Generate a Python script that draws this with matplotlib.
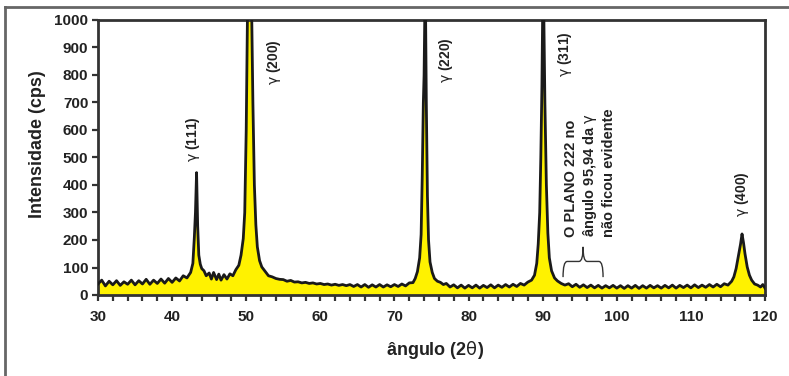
import matplotlib
matplotlib.use("Agg")
import matplotlib.pyplot as plt
from matplotlib.lines import Line2D
from matplotlib.path import Path
from matplotlib.patches import PathPatch
import numpy as np

plt.rcParams['font.family'] = ['Liberation Sans', 'DejaVu Sans']

# difratograma: (angulo 2theta, intensidade cps)
angulo = [
    30.0, 30.5, 31.0, 31.5, 32.0, 32.5, 33.0, 33.5, 34.0, 34.5, 35.0, 35.5, 36.0, 36.5,
    37.0, 37.5, 38.0, 38.5, 39.0, 39.5, 40.0, 40.5, 41.0, 41.5, 42.0, 42.5, 42.8, 43.0,
    43.15, 43.3, 43.45, 43.6, 43.8, 44.0, 44.3, 44.6, 45.0, 45.3, 45.6, 46.0, 46.3, 46.6,
    47.0, 47.4, 47.8, 48.2, 48.6, 49.0, 49.3, 49.6, 49.8, 50.0, 50.2, 50.7, 50.9, 51.1,
    51.3, 51.5, 51.8, 52.1, 52.5, 53.0, 53.5, 54.0, 54.5, 55.0, 55.5, 56.0, 56.5, 57.0,
    57.5, 58.0, 58.5, 59.0, 59.5, 60.0, 60.5, 61.0, 61.5, 62.0, 62.5, 63.0, 63.5, 64.0,
    64.5, 65.0, 65.5, 66.0, 66.5, 67.0, 67.5, 68.0, 68.5, 69.0, 69.5, 70.0, 70.5, 71.0,
    71.5, 72.0, 72.5, 72.8, 73.1, 73.4, 73.6, 73.75, 73.9, 74.0, 74.1, 74.2, 74.3, 74.45,
    74.6, 74.8, 75.1, 75.4, 75.8, 76.2, 76.6, 77.0, 77.5, 78.0, 78.5, 79.0, 79.5, 80.0,
    80.5, 81.0, 81.5, 82.0, 82.5, 83.0, 83.5, 84.0, 84.5, 85.0, 85.5, 86.0, 86.5, 87.0,
    87.5, 88.0, 88.5, 88.9, 89.2, 89.4, 89.6, 89.75, 89.9, 90.0, 90.15, 90.3, 90.5, 90.7,
    90.9, 91.2, 91.6, 92.0, 92.5, 93.0, 93.5, 94.0, 94.5, 95.0, 95.5, 96.0, 96.5, 97.0,
    97.5, 98.0, 98.5, 99.0, 99.5, 100.0, 100.5, 101.0, 101.5, 102.0, 102.5, 103.0, 103.5,
    104.0, 104.5, 105.0, 105.5, 106.0, 106.5, 107.0, 107.5, 108.0, 108.5, 109.0, 109.5,
    110.0, 110.5, 111.0, 111.5, 112.0, 112.5, 113.0, 113.5, 114.0, 114.5, 115.0, 115.5,
    115.8, 116.1, 116.4, 116.7, 116.9, 117.1, 117.3, 117.6, 117.9, 118.2, 118.6, 119.0,
    119.4, 119.7, 120.0,
]
intensidade = [
    40, 54, 33, 50, 37, 52, 35, 48, 39, 54, 37, 52, 40, 57,
    39, 54, 42, 58, 43, 60, 46, 62, 51, 70, 62, 82, 115, 210,
    300, 445, 250, 145, 112, 96, 88, 70, 80, 58, 82, 56, 76, 54,
    74, 58, 77, 70, 92, 108, 145, 205, 300, 600, 1100, 1100, 700, 400,
    255, 175, 125, 102, 88, 70, 66, 60, 57, 56, 50, 53, 47, 48,
    44, 46, 42, 44, 40, 42, 38, 40, 36, 39, 35, 38, 34, 38,
    31, 38, 29, 38, 28, 37, 29, 38, 29, 37, 30, 38, 31, 40,
    33, 44, 45, 60, 85, 135, 220, 430, 700, 800, 1030, 1030, 700, 360,
    200, 120, 82, 60, 50, 46, 38, 42, 29, 37, 26, 36, 25, 35,
    26, 36, 25, 35, 27, 37, 26, 36, 28, 38, 29, 39, 31, 42,
    36, 47, 54, 72, 115, 185, 300, 500, 760, 1030, 1030, 700, 400, 225,
    135, 88, 62, 51, 42, 36, 41, 30, 39, 28, 37, 27, 36, 26,
    35, 25, 34, 26, 35, 25, 34, 24, 34, 25, 35, 24, 34,
    25, 35, 26, 34, 25, 35, 26, 36, 25, 35, 27, 36,
    26, 37, 27, 36, 28, 38, 29, 39, 30, 41, 36, 50,
    66, 96, 140, 185, 222, 190, 150, 102, 72, 54, 40, 36,
    29, 38, 25,
]

picos_x = [42.8, 53.75, 76.95, 93.0, 116.85]
picos_y = [484, 764, 771, 793, 284]
picos_txt = ["(111)", "(200)", "(220)", "(311)", "(400)"]

nota_txt = "O PLANO 222 no\nângulo 95,94 da $\\mathrm{\\gamma}$\nnão ficou evidente"

cor_txt = '#222222'

fig = plt.figure(figsize=(7.89, 3.76), dpi=100)
ax = fig.add_axes([98 / 789, 1 - 295 / 376, 667 / 789, 275 / 376])

ax.fill_between(angulo, 0, intensidade, color='#FFF200', lw=0, zorder=2)
ax.plot(angulo, intensidade, color='#1a1a1a', lw=2.0, zorder=3)

ax.set_xlim(30, 120)
ax.set_ylim(0, 1000)
ax.set_xticks(np.arange(30, 121, 2), minor=True)
ax.set_xticks(np.arange(30, 121, 10))
ax.set_yticks(np.arange(0, 1001, 100))
ax.tick_params(axis='both', which='both', direction='out', length=4, width=1.6,
               color='#333333', labelsize=11, labelcolor=cor_txt)
ax.tick_params(axis='x', which='both', pad=7)
ax.tick_params(axis='y', pad=3)
for lab in ax.get_xticklabels() + ax.get_yticklabels():
    lab.set_fontweight('bold')
for s in ax.spines.values():
    s.set_color('#333333')
    s.set_linewidth(2)

ax.set_xlabel("ângulo (2$\\mathrm{\\theta}$)", fontsize=13, fontweight='bold', color=cor_txt)
ax.xaxis.set_label_coords(0.505, -0.2)
ax.xaxis.label.set_va('center')
ax.set_ylabel("Intensidade (cps)", fontsize=13, fontweight='bold', color=cor_txt)
ax.yaxis.set_label_coords(-0.09, 0.549)
ax.yaxis.label.set_va('center')

for x, y, t in zip(picos_x, picos_y, picos_txt):
    ax.text(x, y, "$\\mathrm{\\gamma}$ " + t, rotation=90, ha='center', va='bottom',
            fontsize=10, fontweight='bold', color=cor_txt, zorder=4)

ax.text(96.4, 211, nota_txt, rotation=90, ha='center', va='bottom', multialignment='left',
        fontsize=10.5, fontweight='bold', color=cor_txt, linespacing=1.25, zorder=4)

# chave sob a nota
xa, xb, xm = 92.75, 98.15, 95.45
y0, y1, y2 = 65, 122, 175
verts = [(xa, y0), (xa, y1), (xa + 0.55, y1), (xm - 0.55, y1), (xm, y1), (xm, y2),
         (xm, y1), (xm + 0.55, y1), (xb - 0.55, y1), (xb, y1), (xb, y0)]
codes = [Path.MOVETO, Path.CURVE3, Path.CURVE3, Path.LINETO, Path.CURVE3, Path.CURVE3,
         Path.CURVE3, Path.CURVE3, Path.LINETO, Path.CURVE3, Path.CURVE3]
ax.add_patch(PathPatch(Path(verts, codes), fill=False, ec='#333333', lw=1.0, zorder=4))

# moldura da figura
fig.add_artist(Line2D([5 / 789, 5 / 789], [0, 1 - 7 / 376], color='#666666', lw=2))
fig.add_artist(Line2D([5 / 789, 1], [1 - 7 / 376, 1 - 7 / 376], color='#666666', lw=2))

fig.savefig('out.png', dpi=100)
